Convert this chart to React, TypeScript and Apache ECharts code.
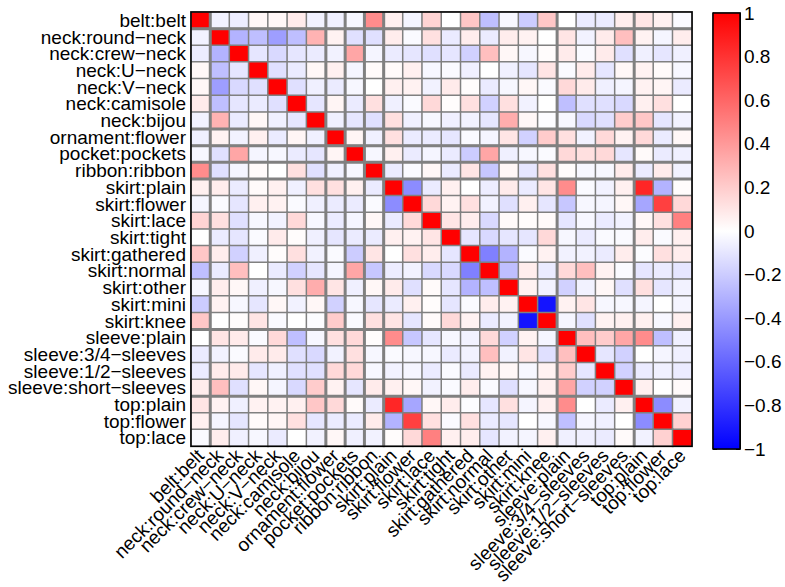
import React, { useEffect, useRef } from 'react';
import * as echarts from 'echarts';

const labels = [
  'belt:belt', 'neck:round−neck', 'neck:crew−neck', 'neck:U−neck', 'neck:V−neck',
  'neck:camisole', 'neck:bijou', 'ornament:flower', 'pocket:pockets', 'ribbon:ribbon',
  'skirt:plain', 'skirt:flower', 'skirt:lace', 'skirt:tight', 'skirt:gathered',
  'skirt:normal', 'skirt:other', 'skirt:mini', 'skirt:knee', 'sleeve:plain',
  'sleeve:3/4−sleeves', 'sleeve:1/2−sleeves', 'sleeve:short−sleeves', 'top:plain',
  'top:flower', 'top:lace',
];

// indices where a new attribute group starts (thick separators)
const groupBreaks = [1, 7, 8, 9, 10, 19, 23];

// upper triangle of the correlation matrix: row i holds columns i+1..25
const upperRows: number[][] = [
  [-0.05, -0.07, 0.03, 0.03, 0.08, -0.05, -0.06, -0.03, 0.45, 0.06, -0.04, 0.17, 0.0, 0.22, -0.25, -0.03, -0.2, 0.22, 0.0, -0.08, -0.08, 0.07, 0.1, 0.06, -0.02],
  [-0.3, -0.25, -0.38, -0.25, 0.3, 0.05, -0.12, -0.12, 0.07, -0.02, 0.12, -0.08, 0.07, -0.08, 0.07, 0.05, 0.0, 0.1, -0.05, 0.08, 0.25, 0.05, -0.04, 0.07],
  [-0.1, -0.15, -0.1, -0.08, -0.05, 0.35, -0.04, -0.08, -0.1, -0.12, -0.1, -0.18, 0.25, 0.03, -0.03, 0.01, 0.08, -0.02, 0.08, -0.12, -0.06, -0.1, -0.06],
  [-0.12, -0.08, 0.03, 0.06, -0.04, 0.02, 0.02, 0.06, -0.03, -0.02, -0.06, 0.0, -0.06, -0.1, 0.1, -0.02, 0.08, -0.1, 0.03, 0.05, 0.02, -0.03],
  [-0.12, -0.06, -0.08, -0.03, 0.0, 0.06, 0.05, -0.05, 0.08, 0.01, -0.08, -0.03, 0.03, -0.02, 0.15, 0.08, -0.06, -0.04, 0.05, 0.04, -0.08],
  [-0.1, 0.04, -0.08, 0.12, -0.06, -0.02, 0.15, 0.01, 0.12, -0.18, 0.12, -0.05, 0.0, -0.25, -0.12, -0.12, -0.15, 0.06, 0.12, 0.0],
  [-0.06, -0.1, -0.12, 0.12, -0.06, -0.03, -0.06, -0.05, -0.1, 0.32, 0.03, -0.01, -0.03, -0.15, -0.12, 0.2, 0.22, -0.1, -0.05],
  [0.04, -0.06, 0.12, -0.08, -0.08, -0.1, -0.02, -0.04, 0.1, -0.18, 0.2, 0.12, -0.05, 0.15, 0.05, 0.15, -0.08, 0.03],
  [-0.03, 0.06, -0.08, -0.04, -0.08, -0.2, 0.35, -0.06, -0.03, -0.02, 0.15, 0.12, 0.15, -0.1, 0.02, -0.08, -0.06],
  [-0.08, -0.02, 0.03, -0.08, 0.1, -0.22, 0.03, -0.1, 0.12, 0.01, -0.03, -0.03, 0.08, -0.08, 0.08, -0.05],
  [-0.45, -0.08, 0.06, 0.0, -0.07, 0.08, -0.08, 0.1, 0.45, -0.02, -0.05, 0.06, 0.85, -0.3, 0.01],
  [0.15, 0.05, 0.12, -0.05, -0.12, 0.06, -0.1, -0.22, -0.03, -0.04, 0.03, -0.35, 0.75, 0.15],
  [0.1, 0.07, -0.15, 0.02, 0.01, 0.02, -0.1, -0.03, -0.08, -0.05, 0.03, 0.12, 0.5],
  [-0.1, -0.15, -0.1, -0.1, 0.15, -0.03, -0.08, -0.02, -0.02, 0.07, -0.02, 0.06],
  [-0.5, -0.3, -0.02, 0.05, -0.05, -0.05, -0.08, 0.07, -0.01, 0.12, 0.07],
  [-0.25, 0.07, -0.08, 0.15, 0.25, 0.05, -0.02, -0.1, -0.08, -0.1],
  [0.05, -0.05, -0.18, -0.05, 0.03, -0.12, 0.12, -0.1, -0.05],
  [-0.92, 0.05, 0.1, -0.03, -0.03, -0.04, 0.0, -0.04],
  [-0.04, -0.12, 0.05, 0.06, 0.06, -0.03, 0.06],
  [0.25, 0.2, 0.35, 0.45, -0.25, -0.06],
  [-0.1, -0.18, 0.0, -0.04, -0.06],
  [-0.18, -0.08, -0.06, -0.08],
  [0.06, 0.0, 0.02],
  [-0.45, -0.05],
  [0.18],
];

const colorbarRange = [-1, 1];
const colorbarColors = ['#0000ff', '#ffffff', '#ff0000'];

const FONT = "'Liberation Sans', Arial, Helvetica, sans-serif";

export default function App() {
  const ref = useRef<HTMLDivElement>(null);

  useEffect(() => {
    document.body.style.margin = '0';
    const chart = echarts.init(ref.current as HTMLDivElement, null, { renderer: 'svg' });
    const n = labels.length;
    const data: number[][] = [];
    for (let i = 0; i < n; i++) {
      for (let j = 0; j < n; j++) {
        let v: number;
        if (i === j) v = 1;
        else if (j > i) v = upperRows[i][j - i - 1];
        else v = upperRows[j][i - j - 1];
        data.push([j, i, v]);
      }
    }

    const fmt = (v: number) => {
      const r = Math.round(v * 10) / 10;
      return String(r).replace('-', '−');
    };

    chart.setOption({
      animation: false,
      backgroundColor: '#ffffff',
      textStyle: { fontFamily: FONT },
      grid: [
        { left: 191, top: 12, width: 501, height: 437, containLabel: false },
        { left: 713, top: 13, width: 27, height: 436, show: true, borderColor: '#000', borderWidth: 1 },
      ],
      xAxis: [
        {
          type: 'category', gridIndex: 0, data: labels,
          axisLine: { show: true, lineStyle: { color: '#000' } },
          axisTick: { show: true, inside: true, length: 3, alignWithLabel: true, lineStyle: { color: '#000' } },
          axisLabel: { rotate: 45, interval: 0, fontSize: 19, color: '#000', fontFamily: FONT, margin: 6 },
          splitLine: { show: false },
        },
        { type: 'category', gridIndex: 1, data: ['cb'], show: false },
      ],
      yAxis: [
        {
          type: 'category', gridIndex: 0, data: labels, inverse: true,
          axisLine: { show: true, lineStyle: { color: '#000' } },
          axisTick: { show: true, inside: true, length: 3, alignWithLabel: true, lineStyle: { color: '#000' } },
          axisLabel: { interval: 0, fontSize: 19, color: '#000', fontFamily: FONT, margin: 5 },
          splitLine: { show: false },
        },
        {
          type: 'value', gridIndex: 1, min: colorbarRange[0], max: colorbarRange[1], interval: 0.2,
          position: 'right',
          axisLine: { show: true, lineStyle: { color: '#000' } },
          axisTick: { show: true, inside: true, length: 4, lineStyle: { color: '#000' } },
          axisLabel: { fontSize: 19, color: '#000', fontFamily: FONT, margin: 4, formatter: fmt },
          splitLine: { show: false },
        },
        {
          type: 'value', gridIndex: 1, min: colorbarRange[0], max: colorbarRange[1], interval: 0.2,
          position: 'left',
          axisLine: { show: true, lineStyle: { color: '#000' } },
          axisTick: { show: true, inside: true, length: 4, lineStyle: { color: '#000' } },
          axisLabel: { show: false },
          splitLine: { show: false },
        },
      ],
      visualMap: {
        type: 'continuous', show: false, min: colorbarRange[0], max: colorbarRange[1],
        seriesIndex: 0, dimension: 2,
        inRange: { color: colorbarColors },
      },
      series: [
        {
          type: 'heatmap', xAxisIndex: 0, yAxisIndex: 0, data,
          itemStyle: { borderColor: '#808080', borderWidth: 1.5 },
          emphasis: { disabled: true },
          z: 2,
        },
        {
          type: 'custom', xAxisIndex: 0, yAxisIndex: 0, z: 5, silent: true,
          data: groupBreaks.map((k) => [k, k]),
          renderItem: (params: any, api: any) => {
            const k = api.value(0);
            const c = api.coord([k, k]);
            const s = api.size([1, 1]);
            const cs = params.coordSys;
            const x = c[0] - s[0] / 2;
            const y = c[1] - s[1] / 2;
            const st = { stroke: '#808080', lineWidth: 3 };
            return {
              type: 'group',
              children: [
                { type: 'line', shape: { x1: x, y1: cs.y, x2: x, y2: cs.y + cs.height }, style: st },
                { type: 'line', shape: { x1: cs.x, y1: y, x2: cs.x + cs.width, y2: y }, style: st },
              ],
            };
          },
        },
        {
          type: 'custom', xAxisIndex: 0, yAxisIndex: 0, z: 6, silent: true,
          data: [[0, 0]],
          renderItem: (params: any) => {
            const cs = params.coordSys;
            return {
              type: 'rect',
              shape: { x: cs.x, y: cs.y, width: cs.width, height: cs.height },
              style: { fill: 'none', stroke: '#000', lineWidth: 1.5 },
            };
          },
        },
        {
          type: 'custom', xAxisIndex: 1, yAxisIndex: 1, z: 2, silent: true,
          data: [[0, colorbarRange[0], colorbarRange[1]]],
          renderItem: (params: any, api: any) => {
            const cs = params.coordSys;
            const top = api.coord([0, api.value(2)])[1];
            const bot = api.coord([0, api.value(1)])[1];
            return {
              type: 'rect',
              shape: { x: cs.x, y: top, width: cs.width, height: bot - top },
              style: {
                fill: new echarts.graphic.LinearGradient(0, 0, 0, 1, [
                  { offset: 0, color: colorbarColors[2] },
                  { offset: 0.5, color: colorbarColors[1] },
                  { offset: 1, color: colorbarColors[0] },
                ]),
                stroke: '#000', lineWidth: 1.5,
              },
            };
          },
        },
      ],
    });

    return () => chart.dispose();
  }, []);

  return <div ref={ref} style={{ width: 785, height: 587, position: 'absolute', left: 0, top: 0 }} />;
}
